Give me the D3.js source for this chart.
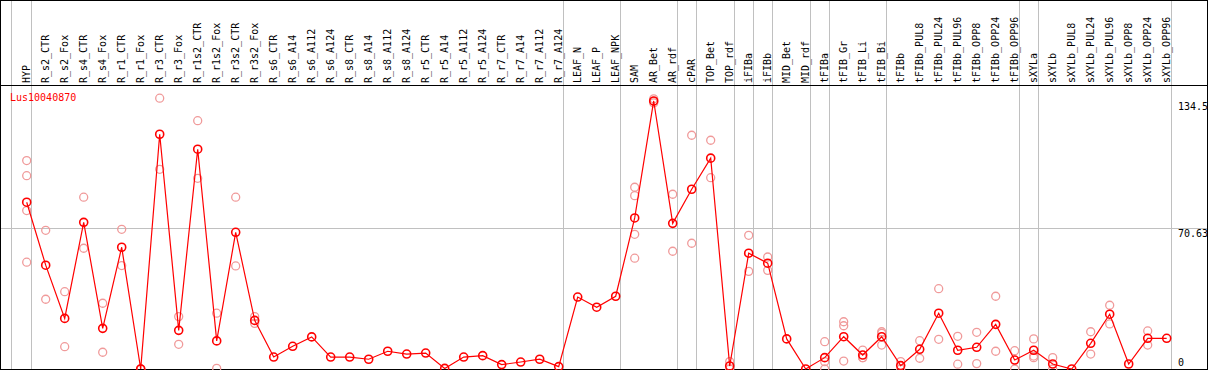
<!DOCTYPE html>
<html>
<head>
<meta charset="utf-8">
<title>Lus10040870</title>
<script src="https://cdn.jsdelivr.net/npm/d3@7"></script>
<style>
    body { margin: 0; padding: 0; background: #fff; }
    svg { display: block; }
    text { font-family: "DejaVu Sans Mono", monospace; font-size: 10px; }
</style>
</head>
<body>
<svg id="chart" width="1209" height="370"></svg>
<script>
// tissue / sample names
var samples = ["HYP", "R_s2_CTR", "R_s2_Fox", "R_s4_CTR", "R_s4_Fox", "R_r1_CTR", "R_r1_Fox",
    "R_r3_CTR", "R_r3_Fox", "R_r1s2_CTR", "R_r1s2_Fox", "R_r3s2_CTR", "R_r3s2_Fox",
    "R_s6_CTR", "R_s6_A14", "R_s6_A112", "R_s6_A124", "R_s8_CTR", "R_s8_A14", "R_s8_A112", "R_s8_A124",
    "R_r5_CTR", "R_r5_A14", "R_r5_A112", "R_r5_A124", "R_r7_CTR", "R_r7_A14", "R_r7_A112", "R_r7_A124",
    "LEAF_N", "LEAF_P", "LEAF_NPK", "SAM", "AR_Bet", "AR_rdf", "cPAR", "TOP_Bet", "TOP_rdf",
    "iFIBa", "iFIBb", "MID_Bet", "MID_rdf", "tFIBa", "tFIB_Gr", "tFIB_Li", "tFIB_Bi",
    "tFIBb", "tFIBb_PUL8", "tFIBb_PUL24", "tFIBb_PUL96", "tFIBb_OPP8", "tFIBb_OPP24", "tFIBb_OPP96",
    "sXYLa", "sXYLb", "sXYLb_PUL8", "sXYLb_PUL24", "sXYLb_PUL96", "sXYLb_OPP8", "sXYLb_OPP24", "sXYLb_OPP96"];

// mean expression per sample
var means = [83.7, 52.1, 25.4, 73.6, 20.4, 61.1, 0, 117.8, 19.4, 110.3, 14.1, 68.6, 24.4,
    6.0, 11.4, 16.1, 6.0, 6.0, 4.9, 8.9, 7.5, 8.0, 0.3, 6.0, 6.7, 2.2, 3.5, 4.9, 1.2,
    36.1, 31.0, 36.5, 75.8, 134.5, 73.1, 90.2, 105.8, 1.5, 58.1, 53.1, 15.1, 0,
    5.7, 16.2, 7.0, 16.2, 1.7, 9.9, 28.0, 9.4, 10.9, 22.4, 4.5,
    9.4, 2.5, 0, 12.9, 27.5, 2.5, 15.4, 15.4];

// replicate values per sample
var replicates = [[104.6, 97.0, 79.5, 53.6], [69.6, 35.0], [38.8, 11.2], [86.2, 60.6], [33.0, 8.4],
    [70.1, 51.9], [0, 0], [135.9, 100.2], [26.3, 12.4], [124.6, 95.7], [28.0, 0.3], [86.2, 51.7], [26.3, 22.9],
    [], [], [], [], [], [], [], [], [], [], [], [], [], [], [], [],
    [], [], [], [91.2, 87.0, 67.6, 55.6], [135.6, 134.3, 133.5], [87.7, 59.1], [117.3, 63.1], [114.8, 96.0],
    [3.7, 0], [67.1, 49.0], [56.2, 49.5], [], [],
    [13.7, 3.7, 0], [23.7, 21.7, 4.0], [9.5, 5.7, 5.7], [18.7, 17.9, 12.0],
    [3.7, 0], [14.2, 5.4], [40.3, 14.9], [16.4, 2.4], [18.4, 2.7], [36.5, 8.9], [9.2, 0],
    [15.1, 6.5, 5.7], [5.7, 0], [], [18.7, 7.5], [32.0, 22.6], [], [19.1, 12.0], []];

// samples after which a group separator is drawn
var groupEnds = ["HYP", "R_r7_A124", "LEAF_NPK", "AR_rdf", "cPAR", "TOP_rdf", "iFIBa", "iFIBb",
    "MID_rdf", "tFIBa", "tFIB_Bi", "tFIBb_OPP96", "sXYLa", "sXYLb_OPP96"];

var tickValues = [134.5, 70.63, 0];
var tickLabels = ["134.5", "70.63", "0"];
var yMax = 141.26;
var geneName = "Lus10040870";

var W = 1209, H = 370;
var headerY = 85.5, bottomY = 369;

var svg = d3.select("#chart");

var x = d3.scalePoint().domain(samples).range([26.7, 1166.7]);
var y = d3.scaleLinear().domain([0, yMax]).range([bottomY, 87.5]);

// grey grid
var grid = svg.append("g").attr("stroke", "#c0c0c0").attr("stroke-width", 1);
grid.append("line")
    .attr("x1", 0).attr("x2", 1207)
    .attr("y1", Math.round(y(70.63)) + 0.5).attr("y2", Math.round(y(70.63)) + 0.5);
var sepX = [x("HYP") - 16].concat(groupEnds.map(function(d) { return x(d) + 3.8; }));
grid.selectAll("line.sep")
    .data(sepX)
    .enter().append("line")
    .attr("class", "sep")
    .attr("x1", function(d) { return Math.round(d) + 0.5; })
    .attr("x2", function(d) { return Math.round(d) + 0.5; })
    .attr("y1", 0).attr("y2", H);

// frame
var frame = svg.append("g").attr("stroke", "#000").attr("stroke-width", 1).attr("fill", "none");
frame.append("rect").attr("x", 0.5).attr("y", 0.5).attr("width", 1207).attr("height", bottomY);
frame.append("line").attr("x1", 0).attr("x2", 1207).attr("y1", headerY).attr("y2", headerY);

// column labels
svg.append("g").selectAll("text")
    .data(samples)
    .enter().append("text")
    .attr("transform", function(d) { return "translate(" + (x(d) + 3.5) + ",83) rotate(-90)"; })
    .attr("fill", "#000")
    .text(function(d) { return d; });

// right side value labels
svg.append("g").selectAll("text")
    .data(tickValues)
    .enter().append("text")
    .attr("x", 1178)
    .attr("y", function(d, i) { return i === tickValues.length - 1 ? y(d) - 3 : y(d) + 9; })
    .attr("fill", "#000")
    .text(function(d, i) { return tickLabels[i]; });

svg.append("text")
    .attr("x", 10).attr("y", 100.5)
    .attr("fill", "#ff0000")
    .text(geneName);

// replicate points
var reps = [];
samples.forEach(function(s, i) {
    replicates[i].forEach(function(v) { reps.push({ s: s, v: v }); });
});
svg.append("g").selectAll("circle")
    .data(reps)
    .enter().append("circle")
    .attr("cx", function(d) { return x(d.s); })
    .attr("cy", function(d) { return y(d.v); })
    .attr("r", 4)
    .attr("fill", "none")
    .attr("stroke", "#f09a9a")
    .attr("stroke-width", 1.3);

// mean line
var line = d3.line()
    .x(function(d, i) { return x(samples[i]); })
    .y(function(d) { return y(d); });
svg.append("path")
    .datum(means)
    .attr("d", line)
    .attr("fill", "none")
    .attr("stroke", "#ff0000")
    .attr("stroke-width", 1.2);

svg.append("g").selectAll("circle")
    .data(means)
    .enter().append("circle")
    .attr("cx", function(d, i) { return x(samples[i]); })
    .attr("cy", function(d) { return y(d); })
    .attr("r", 4)
    .attr("fill", "none")
    .attr("stroke", "#ff0000")
    .attr("stroke-width", 1.6);
</script>
</body>
</html>
